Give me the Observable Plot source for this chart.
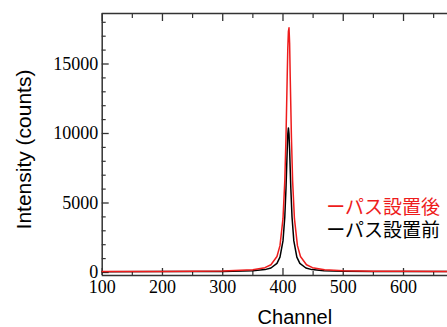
<!DOCTYPE html>
<html><head><meta charset="utf-8">
<script src="https://cdn.jsdelivr.net/npm/d3@7"></script>
<script src="https://cdn.jsdelivr.net/npm/@observablehq/plot@0.6"></script>
<style>
html,body{margin:0;padding:0;background:#fff;overflow:hidden}
</style></head>
<body><div id="chart"></div>
<script>
const afterChannels = [100,200,300,350,370,380,390,395,400,403,405,407,408,409,410,411,412,414,416,419,424,429,439,449,469,500,550,600,673];
const afterCounts = [75,80,105,190,345,560,1150,1930,3870,6590,9750,14090,16150,17350,17600,16500,14090,9750,6590,3870,1930,1150,560,347,193,123,92,82,76];
const beforeChannels = [100,200,300,350,370,380,390,395,400,403,405,407,408,409,410,411,413,415,418,423,428,438,448,468,500,550,600,673];
const beforeCounts = [62,68,79,125,208,325,657,1108,2274,3991,6057,8815,9952,10400,9952,8815,6057,3991,2274,1108,657,325,208,125,88,72,66,63];
const seriesNames = ["ーパス設置後", "ーパス設置前"];
const xDomain = [100, 673];
const yDomain = [-216, 18633];
const xMajor = [100,200,300,400,500,600];
const xMinor = [150,250,350,450,550,650];
const yMajor = [0,5000,10000,15000];
const yMinor = [1000,2000,3000,4000,6000,7000,8000,9000,11000,12000,13000,14000,16000,17000,18000];

const after = afterChannels.map((c,i)=>({x:c, y:afterCounts[i]}));
const before = beforeChannels.map((c,i)=>({x:c, y:beforeCounts[i]}));
const axisColor = "#333";

const chart = Plot.plot({
  width: 447, height: 327,
  marginLeft: 101.7, marginRight: 0, marginTop: 13, marginBottom: 52,
  style: {fontFamily: "'Liberation Serif', serif", fontSize: "18px", color: "#000", background: "#fff", overflow: "visible"},
  x: {domain: xDomain},
  y: {domain: yDomain},
  marks: [
    Plot.ruleY([yDomain[0]], {stroke: axisColor, strokeWidth: 1.5}),
    Plot.ruleY([yDomain[1]], {stroke: axisColor, strokeWidth: 1.5}),
    Plot.ruleX([xDomain[0]], {stroke: axisColor, strokeWidth: 1.5}),
    Plot.axisX(xMajor, {anchor: "bottom", tickSize: -7, tickPadding: 12, tickFormat: d3.format("d"), stroke: axisColor, strokeWidth: 1.3, label: null, fontSize: 18}),
    Plot.axisX(xMinor, {anchor: "bottom", tickSize: -4, text: null, stroke: axisColor, strokeWidth: 1.2, label: null}),
    Plot.axisX(xMajor, {anchor: "top", tickSize: -7, text: null, stroke: axisColor, strokeWidth: 1.3, label: null}),
    Plot.axisX(xMinor, {anchor: "top", tickSize: -4, text: null, stroke: axisColor, strokeWidth: 1.2, label: null}),
    Plot.axisY(yMajor, {anchor: "left", tickSize: -7, tickPadding: 11, tickFormat: d3.format("d"), stroke: axisColor, strokeWidth: 1.3, label: null, fontSize: 18}),
    Plot.axisY(yMinor, {anchor: "left", tickSize: -4, text: null, stroke: axisColor, strokeWidth: 1.2, label: null}),
    Plot.lineY(before, {x: "x", y: "y", stroke: "#000", strokeWidth: 1.5}),
    Plot.lineY(after, {x: "x", y: "y", stroke: "#ee1c1c", strokeWidth: 1.5}),
    Plot.text([seriesNames[0]], {frameAnchor: "left", text: d => d, dx: 224, dy: 63, textAnchor: "start", fill: "#ee1c1c", fontSize: 19, fontFamily: "'Noto Sans CJK JP', sans-serif"}),
    Plot.text([seriesNames[1]], {frameAnchor: "left", text: d => d, dx: 224, dy: 86, textAnchor: "start", fill: "#000", fontSize: 19, fontFamily: "'Noto Sans CJK JP', sans-serif"}),
    Plot.text(["Channel"], {frameAnchor: "bottom", text: d => d, dx: 20, dy: 48, fontSize: 20, fontFamily: "'Liberation Sans', Arial, sans-serif", fill: "#000"}),
    Plot.text(["Intensity (counts)"], {frameAnchor: "left", text: d => d, dx: -78, dy: 5, rotate: -90, textAnchor: "middle", fontSize: 21, fontFamily: "'Liberation Sans', Arial, sans-serif", fill: "#000"})
  ]
});
document.getElementById("chart").appendChild(chart);
</script></body></html>
